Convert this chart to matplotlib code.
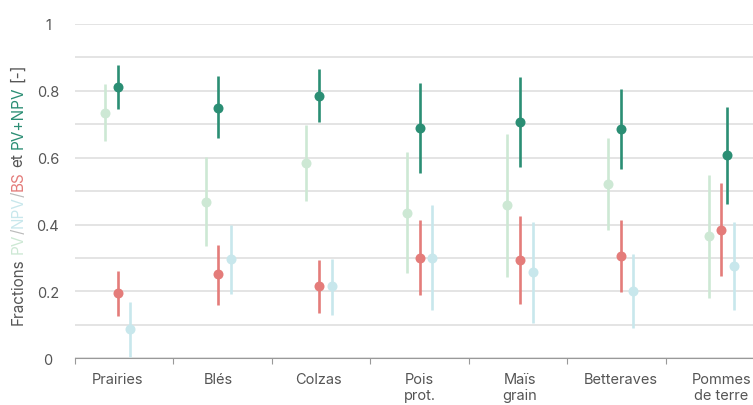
import matplotlib
matplotlib.use("Agg")
import matplotlib.pyplot as plt

# Data
categories = ["Prairies", "Blés", "Colzas", "Pois\nprot.", "Maïs\ngrain", "Betteraves", "Pommes\nde terre"]

pv = [0.735, 0.469, 0.584, 0.436, 0.458, 0.520, 0.365]
pv_lo = [0.651, 0.335, 0.472, 0.254, 0.244, 0.383, 0.179]
pv_hi = [0.820, 0.601, 0.697, 0.616, 0.672, 0.659, 0.549]

npv = [0.087, 0.296, 0.215, 0.301, 0.259, 0.201, 0.276]
npv_lo = [0.004, 0.191, 0.131, 0.144, 0.106, 0.090, 0.144]
npv_hi = [0.169, 0.398, 0.298, 0.460, 0.409, 0.312, 0.408]

bs = [0.194, 0.251, 0.215, 0.301, 0.294, 0.306, 0.385]
bs_lo = [0.126, 0.160, 0.136, 0.188, 0.162, 0.199, 0.246]
bs_hi = [0.262, 0.340, 0.293, 0.415, 0.426, 0.414, 0.524]

pvnpv = [0.813, 0.750, 0.785, 0.690, 0.707, 0.687, 0.607]
pvnpv_lo = [0.746, 0.659, 0.706, 0.554, 0.573, 0.567, 0.461]
pvnpv_hi = [0.878, 0.843, 0.865, 0.823, 0.841, 0.805, 0.753]
pvnpv_shift = [0, 0, 0, 0, 0, 0, 0.054]  # last group is nudged right in the source

# Colours
c_pv = "#cde8d4"
c_npv = "#c8e7ec"
c_bs = "#e47c7a"
c_pvnpv = "#2b8e74"
c_text = "#555555"
c_grid = "#dcdcdc"

plt.rcParams["font.family"] = ["Inter", "DejaVu Sans"]
fs = 10.5

fig = plt.figure(figsize=(7.53, 4.06), dpi=100)
# axis runs past the right edge of the image, like the reference
ax = fig.add_axes([75 / 753, (406 - 359.3) / 406, 689 / 753, 334.3 / 406])

pad = 0.425
n = len(categories)
ax.set_xlim(-pad, n - 1 + pad)
ax.set_ylim(0, 1)

x = list(range(n))
dx = 0.126  # dodge between series


def series(xs, y, lo, hi, color, z):
    for xi, yi, l, h in zip(xs, y, lo, hi):
        ax.plot([xi, xi], [l, h], color=color, lw=1.9, solid_capstyle="butt", zorder=z, clip_on=False)
    ax.plot(xs, y, "o", color=color, ms=7.2, mec="none", zorder=z + 0.5, clip_on=False)


series([xi - dx for xi in x], pv, pv_lo, pv_hi, c_pv, 3)
series([xi + dx for xi in x], npv, npv_lo, npv_hi, c_npv, 3)
series(x, bs, bs_lo, bs_hi, c_bs, 4)
series([xi + s for xi, s in zip(x, pvnpv_shift)], pvnpv, pvnpv_lo, pvnpv_hi, c_pvnpv, 5)

# grid every 0.1, labels every 0.2
ax.set_yticks([i / 10 for i in range(11)])
ax.set_yticklabels(["0" if i == 0 else ("1" if i == 10 else (f"{i/10:g}" if i % 2 == 0 else "")) for i in range(11)])
ax.yaxis.grid(True, color=c_grid, lw=1.1)
ax.set_axisbelow(True)
ax.tick_params(axis="y", length=0, pad=19.5, labelsize=fs, labelcolor=c_text)
for lab in ax.get_yticklabels():
    lab.set_horizontalalignment("center")

# x ticks at band edges, labels under the points
band = (n - 1 + 2 * pad) / n
ax.set_xticks([-pad + k * band for k in range(n)])
ax.set_xticklabels([])
ax.set_xticks(x, minor=True)
ax.set_xticklabels(categories, minor=True, fontsize=fs, color=c_text, linespacing=1.2)
ax.tick_params(axis="x", which="major", length=4, color="#999999", width=0.8)
ax.tick_params(axis="x", which="minor", length=0, pad=10)

for s in ["top", "right", "left"]:
    ax.spines[s].set_visible(False)
ax.spines["bottom"].set_color("#999999")
ax.spines["bottom"].set_linewidth(0.8)

# multi-coloured y label, built from rotated pieces
parts = [("Fractions ", c_text), ("PV", c_pv), ("/", "#bbbbbb"), ("NPV", c_npv), ("/", "#bbbbbb"),
         ("BS", c_bs), (" et ", c_text), ("PV+NPV", c_pvnpv), (" [-]", c_text)]
lab_fs = 11
fig.canvas.draw()
r = fig.canvas.get_renderer()


def ink_w(s):
    t = fig.text(0, 0, s, fontsize=lab_fs)
    w = t.get_window_extent(r).width
    t.remove()
    return w


full = "".join(p for p, _ in parts)
total = ink_w(full)
y0 = (406 - 194.5) - total / 2
prefix = ""
for s, c in parts:
    core = s.strip()
    lead = s[:len(s) - len(s.lstrip())]
    # piece ends where prefix+piece ends; its own ink starts width(piece) earlier
    pos = y0 + ink_w(prefix + lead + core) - ink_w(core)
    fig.text(18 / 753, pos / 406, core, rotation=90, fontsize=lab_fs, color=c,
             ha="center", va="bottom")
    prefix += s

fig.savefig("out.png", dpi=100)
